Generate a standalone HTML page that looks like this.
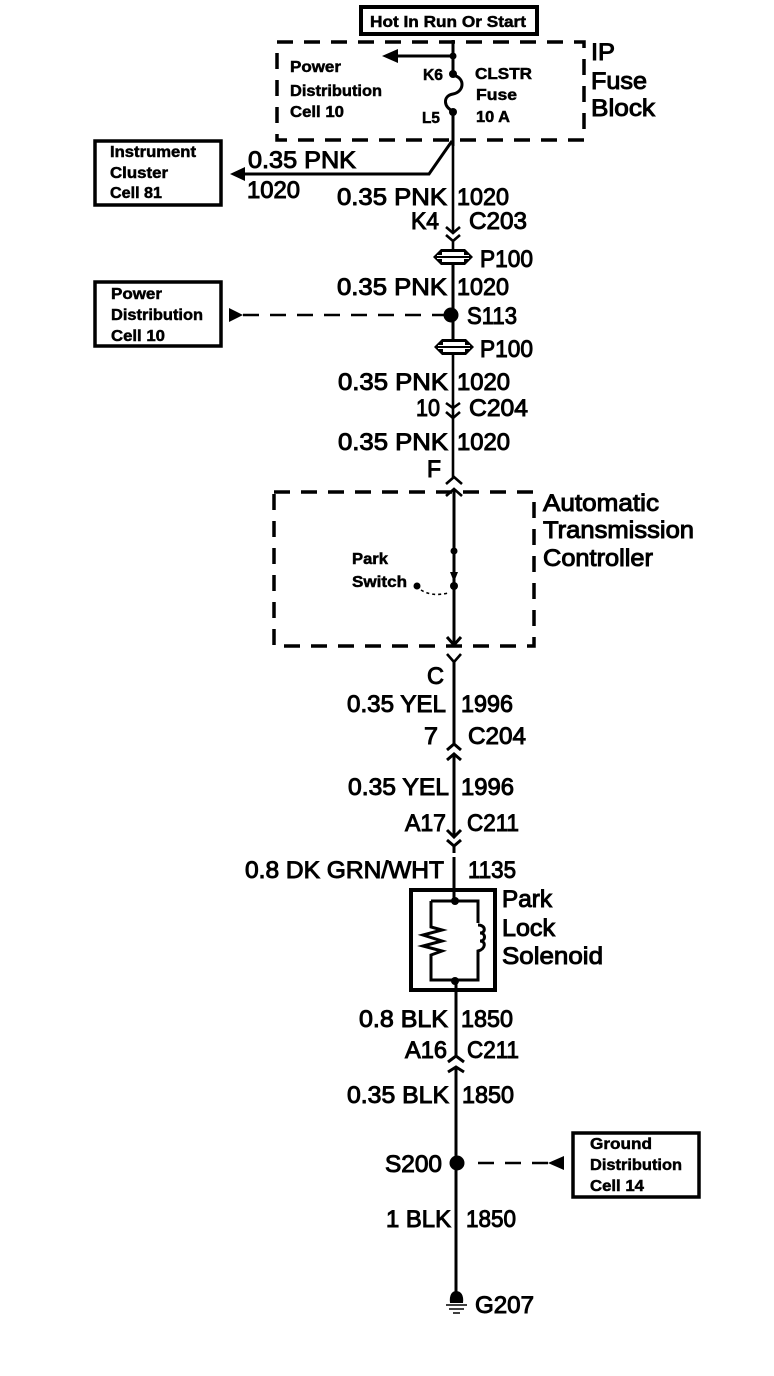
<!DOCTYPE html>
<html><head><meta charset="utf-8"><style>
html,body{margin:0;padding:0;background:#fff}
svg{display:block}
text{font-family:"Liberation Sans",sans-serif;fill:#000;stroke:#000}
.l{font-size:24.5px;stroke-width:1}
.s{font-size:16px;stroke-width:.5;font-weight:bold}
.b{fill:none;stroke:#000;stroke-width:3.5}
.w{fill:none;stroke:#000;stroke-width:3}
.t{fill:none;stroke:#000;stroke-width:2.6}
.d{fill:none;stroke:#000;stroke-width:3.5;stroke-dasharray:16 11}
</style></head><body>
<svg width="774" height="1376" viewBox="0 0 774 1376" xmlns="http://www.w3.org/2000/svg">
<!-- boxes -->
<rect x="361" y="7" width="176" height="27" class="b" style="stroke-width:4"/>
<rect x="95" y="141" width="126" height="64" class="b"/>
<rect x="95" y="282" width="126" height="64" class="b"/>
<rect x="573" y="1133" width="126" height="64" class="b"/>
<rect x="277" y="42" width="307" height="98" class="d"/>
<rect x="274" y="492" width="260" height="154" class="d"/>
<!-- top wires -->
<path class="w" d="M453 40V74M453 112V146"/>
<path class="w" d="M398 56H453"/>
<path d="M382 56L398 49V63Z"/>
<circle cx="453" cy="56" r="3.5"/><circle cx="453" cy="74" r="4"/><circle cx="453" cy="112" r="4"/>
<path class="w" d="M453 75C466 78 464 92 453 94C442 96 444 108 453 111"/>
<path class="w" d="M452 141L429 174H245"/>
<path d="M230 174L245 167V181Z"/>
<path class="t" d="M453 140V233"/>
<path class="t" d="M446 227L453 233L460 227M446 235L453 241L460 235M453 241V250"/>
<!-- P100 -->
<path d="M433 257L441 249H465L473 257L465 265H441Z"/>
<path fill="#fff" d="M442 252H464V255H442ZM442 259H464V262H442Z"/>
<path fill="#fff" d="M437 255H469V256H437ZM437 258H469V259H437Z"/>
<path class="w" d="M453 264V340"/>
<circle cx="451" cy="315" r="7.5"/>
<path class="d" d="M243 315H445" style="stroke-width:2.5"/>
<path d="M229 308L243 315L229 322Z"/>
<path d="M434 347L442 339H466L474 347L466 355H442Z"/>
<path fill="#fff" d="M443 342H465V345H443ZM443 349H465V352H443Z"/>
<path fill="#fff" d="M438 345H470V346H438ZM438 348H470V349H438Z"/>
<path class="t" d="M453 354V477"/>
<path class="t" d="M446 403L453 408L460 403M446 412L453 418L460 412"/>
<path class="t" d="M446 484L454 477L462 484"/>
<path class="t" d="M446 496L454 489L462 496"/>
<!-- controller -->
<path class="w" d="M454 489V645"/>
<circle cx="454" cy="551" r="3.5"/><circle cx="454" cy="586" r="4"/>
<path d="M450 572H458L454 582Z"/>
<circle cx="417" cy="586" r="3.5"/>
<path d="M421 590Q432 597 448 593" fill="none" stroke="#000" stroke-width="1.6" stroke-dasharray="3 3"/>
<path class="w" d="M447 637L454 645L461 637"/>
<path class="t" d="M447 654L454 662L461 654"/>
<path class="w" d="M454 662V744"/>
<path class="w" d="M447 750L454 744L461 750M447 760L454 754L461 760"/>
<path class="w" d="M454 754V837"/>
<path class="w" d="M447 830L454 837L461 830M447 840L454 846L461 840"/>
<path class="w" d="M454 846V853M454 857V898"/>
<!-- solenoid -->
<rect x="411" y="890" width="84" height="100" class="b" style="stroke-width:4"/>
<path class="w" d="M431 901H478V923M431 901V927L442 930L423 935L442 941L423 946L442 951L431 955V980H478V956"/>
<path class="w" d="M478 925C486 925 486 933 480 933C486 933 486 941 480 941C486 941 486 949 478 951V956"/>
<circle cx="455" cy="901" r="4"/><circle cx="455" cy="981" r="4"/>
<path class="w" d="M456 981V1056"/>
<path class="w" d="M448 1062L456 1056L464 1062M448 1072L456 1067L464 1072"/>
<path class="w" d="M456 1067V1295"/>
<circle cx="457" cy="1163" r="7.5"/>
<path class="d" d="M478 1163H550" style="stroke-width:2.5"/>
<path d="M564 1156L548 1163L564 1170Z"/>
<path d="M450 1303C449 1295 452 1291 456 1291C461 1291 464 1295 463 1303Z"/>
<path class="t" style="stroke-width:1.6" d="M446 1305H467M449 1309H464M453 1313H460"/>
<!-- large labels -->
<g class="l">
<text lengthAdjust="spacingAndGlyphs" x="248" y="168" textLength="108">0.35 PNK</text>
<text lengthAdjust="spacingAndGlyphs" x="247" y="198" textLength="53">1020</text>
<text lengthAdjust="spacingAndGlyphs" x="337" y="205" textLength="110">0.35 PNK</text>
<text lengthAdjust="spacingAndGlyphs" x="457" y="205" textLength="52">1020</text>
<text lengthAdjust="spacingAndGlyphs" x="411" y="229" textLength="28">K4</text>
<text lengthAdjust="spacingAndGlyphs" x="469" y="229" textLength="58">C203</text>
<text lengthAdjust="spacingAndGlyphs" x="480" y="267" textLength="53">P100</text>
<text lengthAdjust="spacingAndGlyphs" x="337" y="295" textLength="110">0.35 PNK</text>
<text lengthAdjust="spacingAndGlyphs" x="457" y="295" textLength="52">1020</text>
<text lengthAdjust="spacingAndGlyphs" x="467" y="324" textLength="50">S113</text>
<text lengthAdjust="spacingAndGlyphs" x="480" y="357" textLength="53">P100</text>
<text lengthAdjust="spacingAndGlyphs" x="338" y="390" textLength="110">0.35 PNK</text>
<text lengthAdjust="spacingAndGlyphs" x="457" y="390" textLength="53">1020</text>
<text lengthAdjust="spacingAndGlyphs" x="416" y="416" textLength="24">10</text>
<text lengthAdjust="spacingAndGlyphs" x="469" y="416" textLength="59">C204</text>
<text lengthAdjust="spacingAndGlyphs" x="338" y="450" textLength="110">0.35 PNK</text>
<text lengthAdjust="spacingAndGlyphs" x="457" y="450" textLength="53">1020</text>
<text lengthAdjust="spacingAndGlyphs" x="427" y="477" textLength="14">F</text>
<text lengthAdjust="spacingAndGlyphs" x="591" y="60" textLength="24">IP</text>
<text lengthAdjust="spacingAndGlyphs" x="591" y="89" textLength="56">Fuse</text>
<text lengthAdjust="spacingAndGlyphs" x="591" y="116" textLength="64">Block</text>
<text lengthAdjust="spacingAndGlyphs" x="543" y="511" textLength="116">Automatic</text>
<text lengthAdjust="spacingAndGlyphs" x="543" y="538" textLength="151">Transmission</text>
<text lengthAdjust="spacingAndGlyphs" x="543" y="566" textLength="110">Controller</text>
<text lengthAdjust="spacingAndGlyphs" x="427" y="684" textLength="17">C</text>
<text lengthAdjust="spacingAndGlyphs" x="347" y="712" textLength="99">0.35 YEL</text>
<text lengthAdjust="spacingAndGlyphs" x="461" y="712" textLength="52">1996</text>
<text lengthAdjust="spacingAndGlyphs" x="424" y="744" textLength="14">7</text>
<text lengthAdjust="spacingAndGlyphs" x="468" y="744" textLength="58">C204</text>
<text lengthAdjust="spacingAndGlyphs" x="348" y="795" textLength="101">0.35 YEL</text>
<text lengthAdjust="spacingAndGlyphs" x="461" y="795" textLength="53">1996</text>
<text lengthAdjust="spacingAndGlyphs" x="405" y="831" textLength="41">A17</text>
<text lengthAdjust="spacingAndGlyphs" x="467" y="831" textLength="52">C211</text>
<text lengthAdjust="spacingAndGlyphs" x="245" y="878" textLength="199">0.8 DK GRN/WHT</text>
<text lengthAdjust="spacingAndGlyphs" x="468" y="878" textLength="48">1135</text>
<text lengthAdjust="spacingAndGlyphs" x="502" y="907" textLength="50">Park</text>
<text lengthAdjust="spacingAndGlyphs" x="502" y="936" textLength="53">Lock</text>
<text lengthAdjust="spacingAndGlyphs" x="502" y="964" textLength="101">Solenoid</text>
<text lengthAdjust="spacingAndGlyphs" x="359" y="1027" textLength="89">0.8 BLK</text>
<text lengthAdjust="spacingAndGlyphs" x="461" y="1027" textLength="52">1850</text>
<text lengthAdjust="spacingAndGlyphs" x="405" y="1058" textLength="42">A16</text>
<text lengthAdjust="spacingAndGlyphs" x="467" y="1058" textLength="52">C211</text>
<text lengthAdjust="spacingAndGlyphs" x="347" y="1103" textLength="102">0.35 BLK</text>
<text lengthAdjust="spacingAndGlyphs" x="462" y="1103" textLength="52">1850</text>
<text lengthAdjust="spacingAndGlyphs" x="385" y="1172" textLength="57">S200</text>
<text lengthAdjust="spacingAndGlyphs" x="386" y="1227" textLength="65">1 BLK</text>
<text lengthAdjust="spacingAndGlyphs" x="466" y="1227" textLength="50">1850</text>
<text lengthAdjust="spacingAndGlyphs" x="475" y="1313" textLength="59">G207</text>
</g>
<!-- small labels -->
<g class="s">
<text lengthAdjust="spacingAndGlyphs" x="370" y="27" textLength="156">Hot In Run Or Start</text>
<text lengthAdjust="spacingAndGlyphs" x="290" y="72" textLength="51">Power</text>
<text lengthAdjust="spacingAndGlyphs" x="290" y="96" textLength="92">Distribution</text>
<text lengthAdjust="spacingAndGlyphs" x="290" y="117" textLength="54">Cell 10</text>
<text lengthAdjust="spacingAndGlyphs" x="423" y="80" textLength="20">K6</text>
<text lengthAdjust="spacingAndGlyphs" x="422" y="123" textLength="18">L5</text>
<text lengthAdjust="spacingAndGlyphs" x="475" y="79" textLength="57">CLSTR</text>
<text lengthAdjust="spacingAndGlyphs" x="476" y="100" textLength="41">Fuse</text>
<text lengthAdjust="spacingAndGlyphs" x="476" y="122" textLength="34">10 A</text>
<text lengthAdjust="spacingAndGlyphs" x="110" y="157" textLength="86">Instrument</text>
<text lengthAdjust="spacingAndGlyphs" x="110" y="178" textLength="58">Cluster</text>
<text lengthAdjust="spacingAndGlyphs" x="110" y="198" textLength="52">Cell 81</text>
<text lengthAdjust="spacingAndGlyphs" x="111" y="299" textLength="51">Power</text>
<text lengthAdjust="spacingAndGlyphs" x="111" y="320" textLength="92">Distribution</text>
<text lengthAdjust="spacingAndGlyphs" x="111" y="341" textLength="54">Cell 10</text>
<text lengthAdjust="spacingAndGlyphs" x="352" y="564" textLength="36">Park</text>
<text lengthAdjust="spacingAndGlyphs" x="352" y="587" textLength="55">Switch</text>
<text lengthAdjust="spacingAndGlyphs" x="590" y="1149" textLength="62">Ground</text>
<text lengthAdjust="spacingAndGlyphs" x="590" y="1170" textLength="92">Distribution</text>
<text lengthAdjust="spacingAndGlyphs" x="590" y="1191" textLength="54">Cell 14</text>
</g>
</svg>
</body></html>
